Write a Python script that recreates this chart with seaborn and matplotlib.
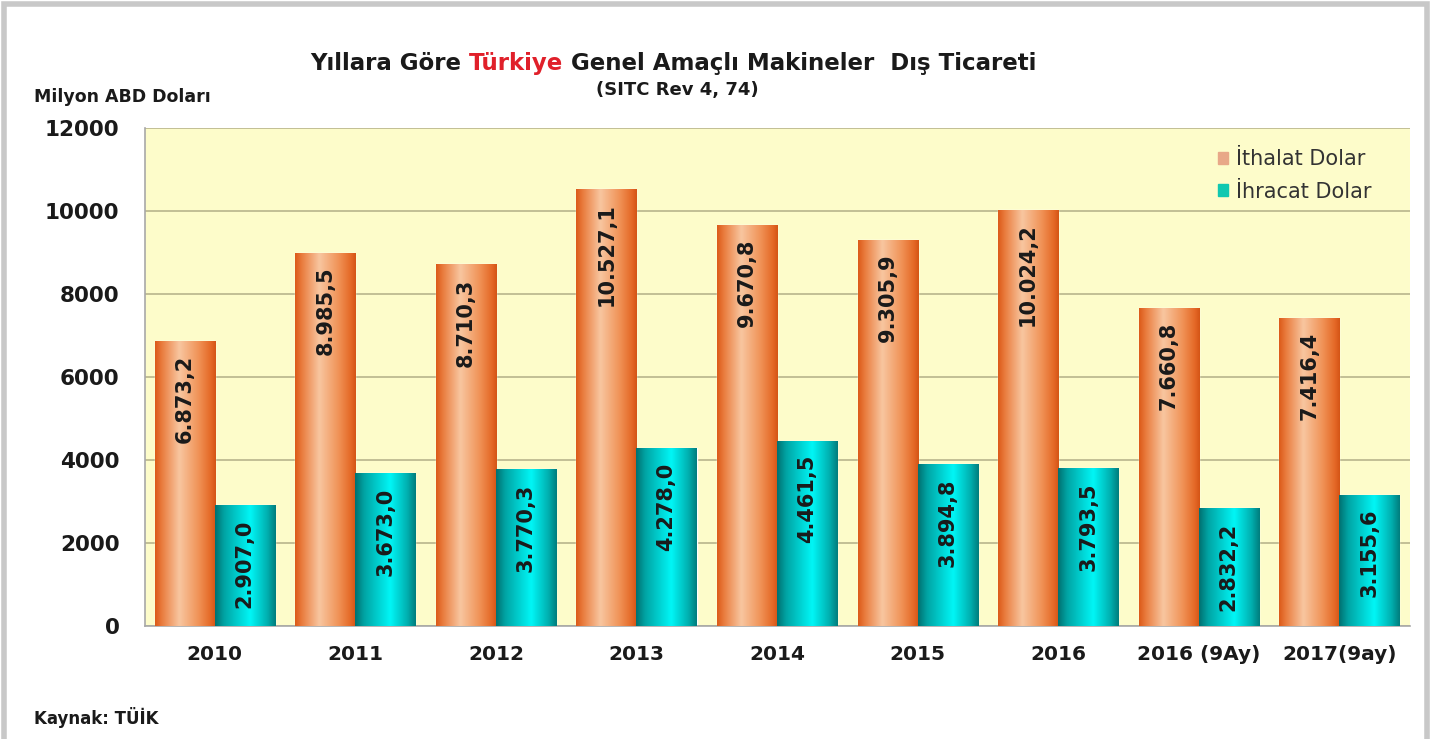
import numpy as np
import pandas as pd
import matplotlib
matplotlib.use("Agg")
import matplotlib.pyplot as plt
import seaborn as sns
from matplotlib.colors import LinearSegmentedColormap
from matplotlib.patches import Rectangle

# data
years = ["2010", "2011", "2012", "2013", "2014", "2015", "2016", "2016 (9Ay)", "2017(9ay)"]
ithalat = [6873.2, 8985.5, 8710.3, 10527.1, 9670.8, 9305.9, 10024.2, 7660.8, 7416.4]
ihracat = [2907.0, 3673.0, 3770.3, 4278.0, 4461.5, 3894.8, 3793.5, 2832.2, 3155.6]
series = ["İthalat Dolar", "İhracat Dolar"]

df = pd.DataFrame({
    "year": years * 2,
    "series": [series[0]] * len(years) + [series[1]] * len(years),
    "value": ithalat + ihracat,
})

sns.set_style("white")
plt.rcParams["font.family"] = ["DejaVu Sans"]

fig = plt.figure(figsize=(14.31, 7.39), dpi=100)
ax = fig.add_axes([0.101, 0.153, 0.884, 0.674])
ax.set_facecolor("#fdfcca")

palette = {series[0]: "#eea070", series[1]: "#00c4c4"}
sns.barplot(data=df, x="year", y="value", hue="series", order=years,
            hue_order=series, palette=palette, width=0.855, gap=0,
            saturation=1, legend=False, ax=ax, zorder=2)

# cylinder-like horizontal gradients clipped to each bar
cmaps = [
    LinearSegmentedColormap.from_list("or", [(0, "#dc5a18"), (0.12, "#ea7e40"), (0.40, "#f8c6a0"),
                                             (0.72, "#f09256"), (0.92, "#e46826"), (1, "#d45416")]),
    LinearSegmentedColormap.from_list("cy", [(0, "#007070"), (0.15, "#00a4a4"), (0.58, "#00f6f6"),
                                             (0.86, "#00b0b0"), (1, "#007c7c")]),
]
grad = np.linspace(0, 1, 256).reshape(1, -1)
for cont, cm in zip(ax.containers[:2], cmaps):
    for p in cont:
        x0, y0 = p.get_x(), p.get_y()
        w, h = p.get_width(), p.get_height()
        im = ax.imshow(grad, cmap=cm, extent=[x0, x0 + w, y0, y0 + h],
                       aspect="auto", zorder=3, interpolation="bicubic")
        im.set_clip_path(p)
        lab = f"{h:,.1f}".replace(",", "X").replace(".", ",").replace("X", ".")
        ax.annotate(lab, xy=(x0 + w / 2, y0 + h), xytext=(0, -10),
                    textcoords="offset points", rotation=90, ha="center", va="top",
                    fontsize=15, fontweight="bold", color="#1a1a1a", zorder=5)

ax.set_xlim(-0.5, len(years) - 0.5)
ax.set_ylim(0, 12000)
ax.set_yticks(np.arange(0, 12001, 2000))
ax.yaxis.grid(True, color="#b8b48c", linewidth=1.2, zorder=0)
ax.set_axisbelow(True)
ax.set_xlabel("")
ax.set_ylabel("")

ax.set_xticks(np.arange(-0.5, len(years), 1), minor=True)
ax.tick_params(axis="x", which="major", length=0, pad=14, labelsize=14.5)
ax.tick_params(axis="x", which="minor", length=8, color="#a0a0a0", width=1.2)
ax.tick_params(axis="y", length=6, color="#a0a0a0", width=1.2, pad=12, labelsize=15.5)
for lab in ax.get_xticklabels() + ax.get_yticklabels():
    lab.set_fontweight("bold")
    lab.set_color("#1a1a1a")

for s in ["top", "right"]:
    ax.spines[s].set_visible(False)
ax.spines["left"].set_color("#a8a8a8")
ax.spines["bottom"].set_color("#a8a8a8")
ax.spines["left"].set_linewidth(1.2)
ax.spines["bottom"].set_linewidth(1.2)

# legend with small squares
handles = [Rectangle((0, 0), 1, 1, color="#e8a888"), Rectangle((0, 0), 1, 1, color="#10c8b0")]
ax.legend(handles, series, loc="upper right", bbox_to_anchor=(0.985, 0.995), frameon=False,
          handlelength=0.5, handleheight=0.5, handletextpad=0.4, labelspacing=0.6,
          fontsize=15, labelcolor="#333333")

# title with red "Türkiye"
ty = 0.905
t1 = fig.text(0.2166, ty, "Yıllara Göre ", fontsize=16.5, fontweight="bold", color="#1a1a1a")
t2 = fig.text(0, ty, "Türkiye", fontsize=16.5, fontweight="bold", color="#e0202a")
t3 = fig.text(0, ty, " Genel Amaçlı Makineler  Dış Ticareti", fontsize=16.5,
              fontweight="bold", color="#1a1a1a")
fig.canvas.draw()
r = fig.canvas.get_renderer()
inv = fig.transFigure.inverted()
bb1 = t1.get_window_extent(r)
t2.set_position((inv.transform((bb1.x1, 0))[0], ty))
bb2 = t2.get_window_extent(r)
t3.set_position((inv.transform((bb2.x1, 0))[0], ty))

fig.text(0.473, 0.872, "(SITC Rev 4, 74)", fontsize=13, fontweight="bold",
         color="#1a1a1a", ha="center")
fig.text(0.024, 0.862, "Milyon ABD Doları", fontsize=12.5, fontweight="bold", color="#1a1a1a")
fig.text(0.024, 0.02, "Kaynak: TÜİK", fontsize=12, fontweight="bold", color="#1a1a1a")

# gray frame around the figure
fig.patches.append(Rectangle((0.003, -0.01), 0.994, 1.005, transform=fig.transFigure,
                             fill=False, edgecolor="#c8c8c8", linewidth=4))

fig.savefig("out.png", dpi=100)
